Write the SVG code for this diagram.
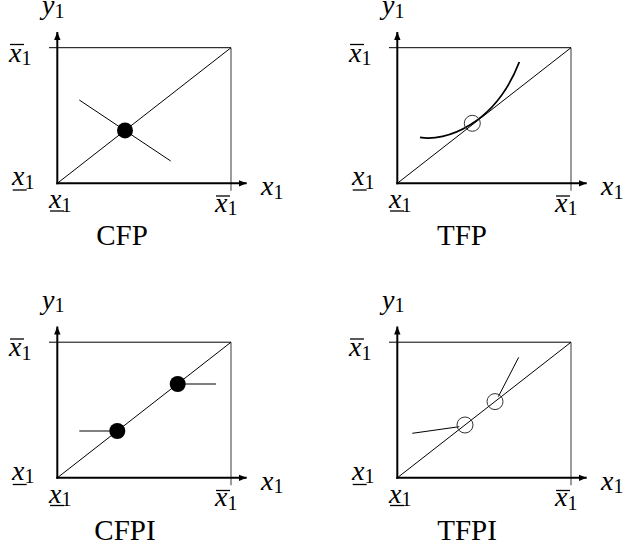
<svg xmlns="http://www.w3.org/2000/svg" width="627" height="552" viewBox="0 0 627 552">
<style>
.ax{stroke:#000;stroke-width:2;fill:none}
.bx{stroke:#000;stroke-width:1;fill:none}
.rt{stroke:#666;stroke-width:1.3;fill:none}
.ln{stroke:#000;stroke-width:1;fill:none}
.cv{stroke:#000;stroke-width:1.8;fill:none}
.dot{fill:#000}
.oc{fill:none;stroke:#333;stroke-width:1}
.bar{stroke:#000;stroke-width:1.3}
.t{font-family:'Liberation Serif',serif;font-size:28px;fill:#000}
.cap{font-size:29px}
.i{font-style:italic}
.s{font-size:20px;font-style:normal}
</style>
<defs>
<marker id="ah" markerUnits="userSpaceOnUse" markerWidth="10" markerHeight="8" refX="8" refY="4" orient="auto">
<path d="M0,0.8 L8,4 L0,7.2 Z" fill="#000"/>
</marker>
<g id="frame">
<line class="bx" x1="49" y1="47.7" x2="231" y2="47.7"/>
<line class="rt" x1="231" y1="47.7" x2="231" y2="190.7"/>
<line class="ln" x1="57.3" y1="183.3" x2="231" y2="47.7"/>
<line class="ax" x1="57.3" y1="184.3" x2="57.3" y2="32" marker-end="url(#ah)"/>
<line class="ax" x1="56.3" y1="183.3" x2="246.7" y2="183.3" marker-end="url(#ah)"/>
<text class="t i" x="42" y="14">y<tspan class="s" dy="3.5">1</tspan></text>
<text class="t i" x="9" y="61.5">x<tspan class="s" dy="3.5">1</tspan></text>
<line class="bar" x1="10" y1="44.5" x2="24" y2="44.5"/>
<text class="t i" x="12" y="185">x<tspan class="s" dy="3.5">1</tspan></text>
<line class="bar" x1="12.7" y1="190" x2="26.7" y2="190"/>
<text class="t i" x="49" y="208">x<tspan class="s" dy="3.5">1</tspan></text>
<line class="bar" x1="50" y1="211" x2="64" y2="211"/>
<text class="t i" x="261" y="195">x<tspan class="s" dy="3.5">1</tspan></text>
<text class="t i" x="215" y="211.7">x<tspan class="s" dy="3.5">1</tspan></text>
<line class="bar" x1="216" y1="196" x2="230" y2="196"/>
</g>
</defs>
<g id="cfp">
<use href="#frame"/>
<line class="ln" x1="79.3" y1="100" x2="170.7" y2="161"/>
<circle class="dot" cx="125" cy="130.4" r="8"/>
<text class="t cap" x="122" y="245" text-anchor="middle">CFP</text>
</g>
<g id="tfp" transform="translate(340,0)">
<use href="#frame"/>
<path class="cv" d="M80,137.3 C105,142 155,125 179.3,62"/>
<circle class="oc" cx="132.3" cy="123.3" r="8"/>
<text class="t cap" x="122" y="245" text-anchor="middle">TFP</text>
</g>
<g id="cfpi" transform="translate(0,294.5)">
<use href="#frame"/>
<line class="ln" x1="79.3" y1="136.5" x2="117.3" y2="136.5"/>
<line class="ln" x1="177.7" y1="89.5" x2="216" y2="89.5"/>
<circle class="dot" cx="117.3" cy="136.5" r="8"/>
<circle class="dot" cx="177.7" cy="89.5" r="8"/>
<text class="t cap" x="125" y="245" text-anchor="middle">CFPI</text>
</g>
<g id="tfpi" transform="translate(340,294.5)">
<use href="#frame"/>
<line class="ln" x1="72.3" y1="138.8" x2="119.3" y2="132.2"/>
<line class="ln" x1="158.3" y1="102.2" x2="178.7" y2="62.8"/>
<circle class="oc" cx="125" cy="130.5" r="8"/>
<circle class="oc" cx="155" cy="107.1" r="8"/>
<text class="t cap" x="127" y="245" text-anchor="middle">TFPI</text>
</g>
</svg>
